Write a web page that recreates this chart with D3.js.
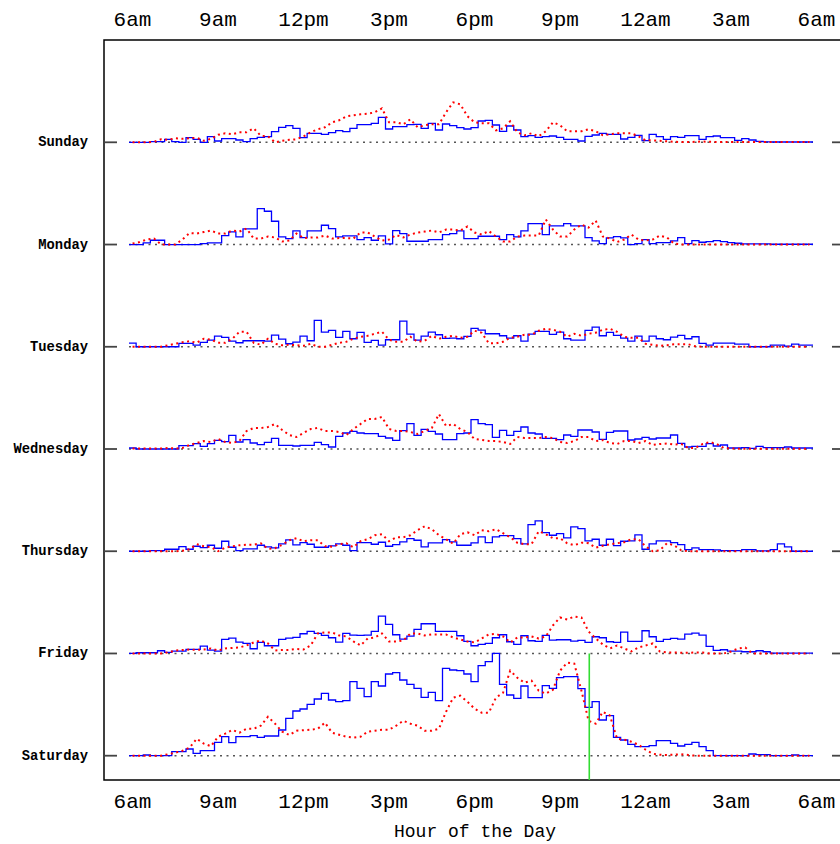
<!DOCTYPE html>
<html><head><meta charset="utf-8">
<script src="https://cdn.jsdelivr.net/npm/d3@7"></script>
<style>body{margin:0;background:#fff;overflow:hidden}</style>
</head><body><svg id="chart" width="840" height="844"></svg>
<script>
// ---------------- data ----------------
const days = ["Sunday","Monday","Tuesday","Wednesday","Thursday","Friday","Saturday"];
const hourTicks = [6,9,12,15,18,21,24,27,30];
const hourLabels = ["6am","9am","12pm","3pm","6pm","9pm","12am","3am","6am"];
const startHour = 6;           // first bin starts at 6am
const binsPerHour = 4;         // 15-minute bins
const markerHour = 22.15;      // green marker (Saturday)

const sundayBlue = [0,0,0,0.7,0.7,3,0.7,0,4.7,3,0,5.7, 1.3,3.7,3.7,2.3,0.7,3.7,5,5.7,10.7,15,16.7,14, 4.7,9,9,8,9.7,11.7,10.7,14,17.7,17.7,19,25, 13.3,15.7,15.7,17.7,18,14,19,12.3,18.3,16.7,14.7,13.3, 14.7,21.3,22,17.3,11,16.3,12.3,5.7,6.7,5,5.7,6.3, 5,3,3,1.3,6,7.3,9,8,8,3.3,5,7, 1.7,8,5.7,3,5.7,5,6.7,6.7,3,5.7,6.3,4.7, 4.7,2,3.7,2.3,1,0.5,0.3,0.3,0.3,0.3,0.3,0.3];
const sundayRed = [0,0,0,0.5,3,2.5,4,3.5,4,4.5,1.5,3.5, 7.5,9,8,10,10,14,6.5,6,0,1.5,2.5,3, 6,10,13,15,20,22,26,27,28,28.5,30,34, 20,20,18,23,15,17,18,18,30,40,38,26, 20,19,19,12,14,21,10,7,9,6,11,20, 17,11,11,11,13,11,7,8,9,9,9,6, 2,2,1.5,1,0.5,0.3,0.3,0.5,0.8,0.5,0.3,0.3, 0.3,0.3,0.3,0.3,0.3,0.3,0.3,0.3,0.3,0.3,0.3,0.3];

const mondayBlue = [0,0,1.7,4.3,4.3,0,0,0,0,0,1,1.7, 1.7,9,12.7,7.7,15.7,15.7,36,33.3,23.3,7.7,6,13.7, 7,13.7,13.7,19.3,16,7.7,8.7,8.7,5,7,4.3,8.7, 0.7,14,11,3.3,3.3,3.3,5,5,10,11,13.7,6, 6,8.3,8.3,8.3,5,10,7.7,13.7,21,21,10,18.7, 18.7,21,18.7,18.7,7,3.7,1,6.7,8,6.7,0,1, 5,1,2,2,3.7,7,1,4,2.3,3,4,3, 2,1.3,0.7,0.7,0.7,0.7,0.3,0.3,0.3,0.3,0.3,0.3];
const mondayRed = [1,2.5,5,6,0,0,0,5,11.5,11,12.5,14, 11,11,14,13,16,6,6,8,7,3,4,11, 6.5,7,7,9,6,6.5,6.5,6,12,12,8,4, 5,9.5,7,10,12,13,14,12,15,15,14,18, 12,10,13.5,8,3,3,8,9,9,9,25,15, 8,8,15,20,17,24,8,6,2.5,5,10,5, 4,5,9,7,1,0,0,0,0,0,0,0, 0,0,0,0,0,0,0,0,0,0,0,0];

const tuesdayBlue = [3.7,0,0,0,0,0,0,3.3,3.3,1.7,4.3,6.7, 10.7,9.3,5.7,4,6,6,6,5.7,11.7,7.7,3,4.7, 10.7,6,26.3,14.7,16.3,9.3,15.3,8,14.3,4.3,6.3,1.7, 7,7,25.7,12.7,6.7,10.7,14.7,12,8.3,8.7,8,10.3, 18.3,16.7,13,13,11,8.7,11,5.7,12.7,15.3,15.3,12.3, 14.7,8,6.7,6.7,16.3,19.7,11,14.3,11.3,8.7,5.7,10.7, 5.7,10.7,8,7,9.7,11.3,8,10,3.3,1.7,3.7,3.7, 3.7,2.7,2.7,0,0,0,1.7,1.7,0.7,2.7,1.7,1.7];
const tuesdayRed = [0,0,0,0,0,1.5,3,4.5,5.5,4,8,7, 4,4,8,15,15,4,2,8,3,1.5,2,1.5, 1,3,0,0,2,4,5,8,10,11,13,15, 7,5,5,10,5,6,11,8,10,11,9,10, 16,14,3.5,3.5,5,9,10,12,12,16,18,17, 15,10,13,11,13,14,17,18,15,10,9,9, 3,2,1,1.5,2.5,2.5,2.5,0.5,0,0,0,0, 0,0,0,0,0,0,0,0,0,0,0,0];

const wednesdayBlue = [1,0,0,0,0,0,0,3.3,3.3,5.3,2.7,5.3, 8.7,7.3,13.7,7,9.3,6,4.3,6.7,10.7,3.7,3.7,3, 3.7,3.7,6.7,4.3,2,12.7,16,17.7,16,15.3,15.3,12.7, 11,8.7,18.3,25.3,13.7,19.7,17.7,15,9.3,9.3,15.3,16, 29.3,25.3,24.3,11.7,18.7,13.7,17.7,22,16,15,10.7,10.7, 9.3,14,12.7,19,19,17,9.7,16.7,18,18,9,10, 11.7,10,11,11,14,5.7,2,2.7,2.7,5.3,3,4, 1,1,1.3,0.7,2.7,1.3,1.3,1.3,2,1,1,1];
const wednesdayRed = [0.5,0.5,0.5,0.5,0.5,1,0.5,1,4,6,8,7, 10,7,6,8,18,21,21,22,25,19,14,12, 16,20,21,18,18,17,14,20,25,30,30,32, 20,18,18,17,15,18,21,35,23,25,20,17, 10,9,8,8,7,5,12,11,11,11,12,11, 7,6,8,12,12,8,9,6,5,8,8,6, 8,4,5,5.5,4.5,5,1,1,5,7,5,1, 0.5,0.3,0.3,0.3,0.3,0.3,0.3,0.3,0.3,0.3,0.3,0.3];

const thursdayBlue = [0,0,0,0.7,0.7,2,2,4.7,2,5,3.7,6, 3,10,4,0.7,2.3,2.3,6,4.3,3.3,7.3,11.3,6.3, 8.7,7,4,4,5.3,7.3,6,0.7,8.7,8.7,7,9, 5,6.7,9.3,12.7,11,4.3,8.3,8.3,11.7,9.3,6,6, 8.3,14.3,8.7,14.3,15.7,15.7,12.7,7.3,26.7,30.3,18.7,16, 17.7,13.3,24.3,22.7,10.3,12,6,12,5.7,10,10.3,16.3, 2,7.3,10.3,10.3,8.7,6.7,1.7,3.3,1.7,1.7,1.3,0.7, 0.7,0.7,1.7,1.7,0.3,0.3,1.7,7.3,4.3,0,0,0];
const thursdayRed = [0,0,0,0,0,0,0,0.5,2,7,5,4, 0,3.5,5,6,6.5,6.5,8,2.5,3,6.5,11,13, 10,11,11,5,4.5,7,8,4,10,12,16,17, 10,14,14,16,21,25,22,16,12,7.5,17,19, 16,21,20,22,18,14,8.5,7,7,20,17,13, 13,8,6,8.5,8,3.5,5.5,7,8,9,12,12, 5,0,1,8,6,1,0,0,0,0,0,0, 0,0,0,0,0,0,0,0,0,0,0,0];

const fridayBlue = [0,0.7,0.7,0.7,2.7,1,2.3,2.3,4,4,7.3,3.3, 2.3,14,15.3,11.3,10,4.7,11,7.7,7.7,14,15.3,16, 19.7,22,20,18,15.7,11.3,20,18.3,18,18.3,22,37.3, 29,18.7,14.3,17.3,24,29.7,29.7,22,22,22,17.7,12, 7.7,9,10,15.7,18.7,11.7,9,17.7,12.7,12,18,13.3, 13.7,13.7,12.3,13,11,16.7,15.7,11.7,11,21.3,12,12, 22.7,16.7,12,14,15,14.3,19.3,20.3,18.3,7,3,3.7, 2.3,2.3,1.7,1.7,2.7,1.7,0.3,0.3,0.3,0.3,0.3,0.3];
const fridayRed = [0,0,0,0,0,1,3,3.5,4,3.5,4,5, 3,5,5.5,6,8,11,13,10,3,3.5,3.5,4.5, 4,8,20,21,21,18,17,12,8,15,16,20, 12,12,13,20,20,18,19,19,19,16,14,12, 11,15,19,19.5,17,11,16,16,17,15,17,28, 36,34,37,36,22,15,9,5,8,5,2,6, 8,10,2,1,1,0.7,0.7,1,1,0,0,0, 2,5,6,0,0,0,0,0,0,0,0,0];

const saturdayBlue = [0,0,0.7,0,0,0,4,4,6.7,2.3,5,5, 13.3,19,13,19,19,20,18.3,19.7,19.7,25.7,37.3,44.7, 46.7,51.3,56.7,62.3,55.7,54,55,74,67.3,59,74,69.7, 81.7,83,75.7,71.3,67.3,58.3,63.3,55,87.3,85.7,85,81.7, 74,90,94,102.3,71.3,60.7,57.3,69.7,58,58,70,67.3, 78,79,79,67,48.3,54,35.7,40,18.3,15.7,11.3,9, 9,10,15,15,12.3,9.7,11.3,13.3,9,5,0,0, 0,0,0,1.7,1,1,0,0,0,0.7,0,0];
const saturdayRed = [0,0,0,0,0,1.5,3,5,8,17,12,9.5, 19,22,25.7,23,27,27,30,39,32,24,20.7,25, 25.5,26,27,33,23,21,19,18,19,24,25,26, 26,30,35,32,30,25,25,27,44,58,60,54, 47,43,43,58,63,85,78,73,75,65,62,66, 85,93,92,65,35,32,44,40,17,16,14,11, 6,2,1,0.7,1,1.5,0.7,0,0,0,0,0, 0,0,0,0,0,0,0,0,0,0,0,0];

const blueSeries = [sundayBlue, mondayBlue, tuesdayBlue, wednesdayBlue, thursdayBlue, fridayBlue, saturdayBlue];
const redSeries  = [sundayRed, mondayRed, tuesdayRed, wednesdayRed, thursdayRed, fridayRed, saturdayRed];

// ---------------- drawing ----------------
const svg = d3.select("#chart");
const frame = {left:104, right:845, top:40, bottom:780};
const x = d3.scaleLinear().domain([6,30]).range([129,813]);
const rowY = d3.scalePoint().domain(days).range([142.3,755.7]);
const v = d3.scaleLinear().domain([0,100]).range([0,100]);
const mono = "'Liberation Mono','DejaVu Sans Mono',monospace";

// frame
svg.append("path")
  .attr("d", `M${frame.right},${frame.top}H${frame.left}V${frame.bottom}H${frame.right}`)
  .attr("fill","none").attr("stroke","#000").attr("stroke-width",1.5);

// top & bottom hour labels
function hourAxis(gen, y){
  const g = svg.append("g").attr("transform",`translate(3,${y})`)
    .call(gen(x).tickValues(hourTicks).tickSize(0).tickPadding(0)
      .tickFormat((d,i)=>hourLabels[i]));
  g.select(".domain").remove();
  g.selectAll("text").attr("font-family",mono).attr("font-size",21).attr("fill","#000");
  return g;
}
hourAxis(d3.axisTop, 26);
hourAxis(d3.axisBottom, 793);

svg.append("text").attr("x",475).attr("y",837).attr("text-anchor","middle")
  .attr("font-family",mono).attr("font-size",18).attr("fill","#000")
  .text("Hour of the Day");

// rows
days.forEach((day,di)=>{
  const base = rowY(day);
  svg.append("line").attr("x1",frame.left).attr("x2",frame.left+13).attr("y1",base).attr("y2",base)
    .attr("stroke","#444").attr("stroke-width",1.8);
  svg.append("line").attr("x1",832).attr("x2",frame.right).attr("y1",base).attr("y2",base)
    .attr("stroke","#444").attr("stroke-width",1.8);
  svg.append("text").attr("x",88).attr("y",base+4).attr("text-anchor","end")
    .attr("font-family",mono).attr("font-weight","bold").attr("font-size",13.8).attr("fill","#000")
    .text(day);
  svg.append("line").attr("x1",x(6)).attr("x2",x(30)).attr("y1",base).attr("y2",base)
    .attr("stroke","#555").attr("stroke-width",1.4).attr("stroke-dasharray","2,4.5");

  const blue = blueSeries[di];
  const bpts = blue.map((d,i)=>[startHour + i/binsPerHour, d]);
  bpts.push([startHour + blue.length/binsPerHour, blue[blue.length-1]]);
  const stepLine = d3.line().x(d=>x(d[0])).y(d=>base - v(d[1])).curve(d3.curveStepAfter);
  svg.append("path").attr("d", stepLine(bpts)).attr("fill","none")
    .attr("stroke","#0000ff").attr("stroke-width",1.3);

  const red = redSeries[di];
  const rpts = red.map((d,i)=>[startHour + (i+0.5)/binsPerHour, d]);
  const dotLine = d3.line().x(d=>x(d[0])).y(d=>base - v(d[1]));
  svg.append("path").attr("d", dotLine(rpts)).attr("fill","none")
    .attr("stroke","#ff0000").attr("stroke-width",2).attr("stroke-dasharray","2,3.5");
});

// green marker
svg.append("line").attr("x1",x(markerHour)).attr("x2",x(markerHour))
  .attr("y1",rowY("Friday")).attr("y2",frame.bottom)
  .attr("stroke","#33dd33").attr("stroke-width",1.6);
</script></body></html>
